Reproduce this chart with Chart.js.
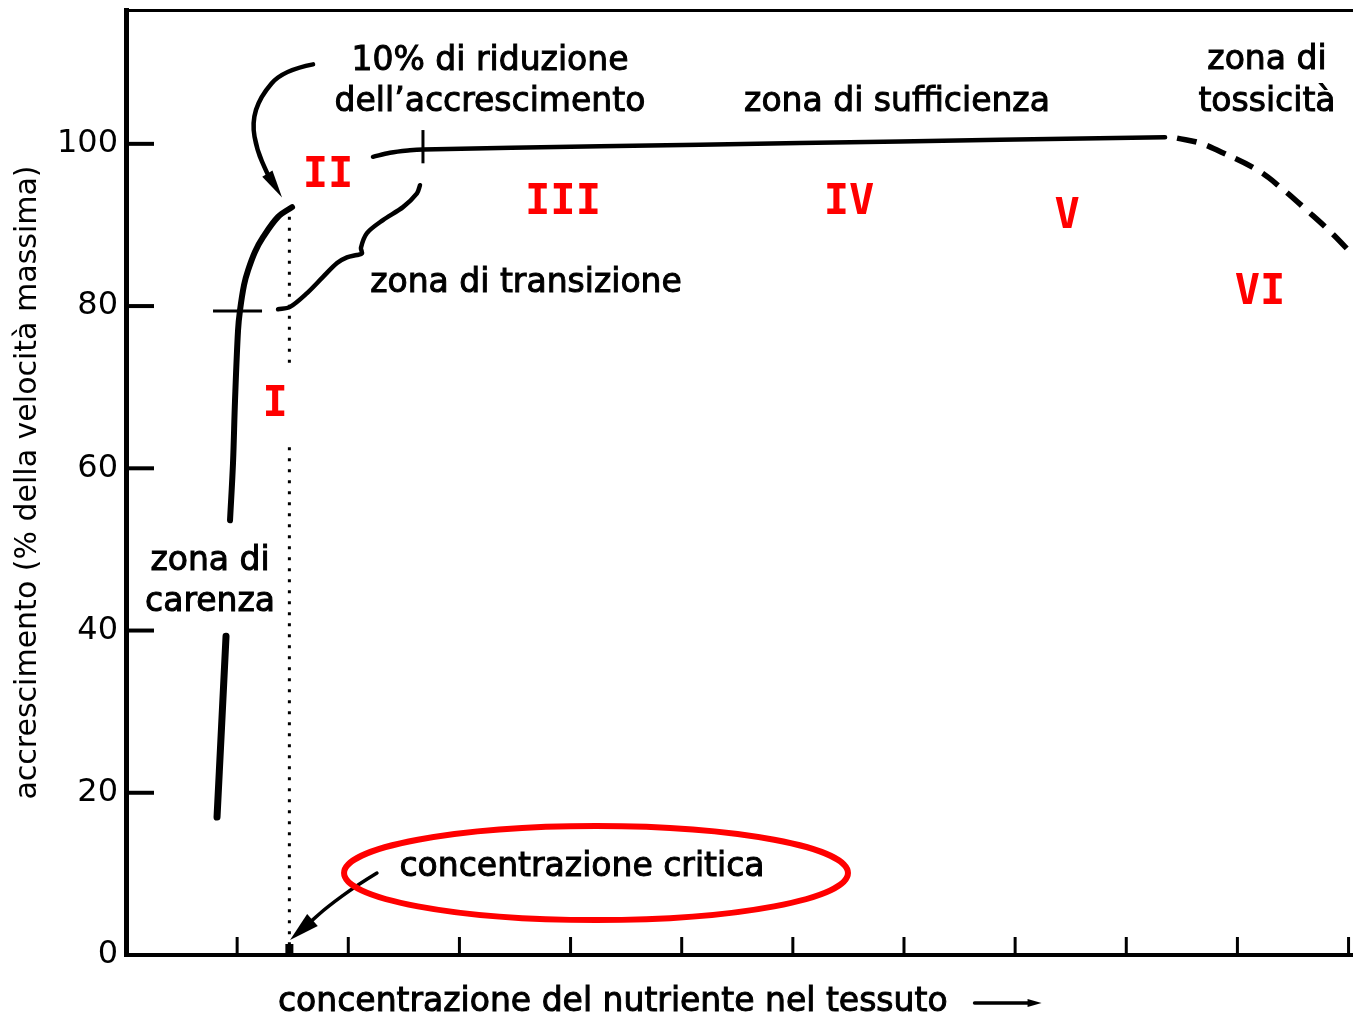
<!DOCTYPE html>
<html>
<head>
<meta charset="utf-8">
<script src="https://cdn.jsdelivr.net/npm/chart.js@4.4.1/dist/chart.umd.min.js"></script>
<style>
  html, body { margin: 0; padding: 0; background: #fff; }
  canvas { display: block; }
</style>
</head>
<body>
<canvas id="myChart" width="1353" height="1018"></canvas>
<script>
// valori: x = concentrazione (unità di tacca), y = % accrescimento
const xTicks = [1, 2, 3, 4, 5, 6, 7, 8, 9, 10, 11];
const yTicks = [0, 20, 40, 60, 80, 100];
const critica = 1.47;

const carenzaX = [0.819, 0.860, 0.900];
const carenzaY = [17.0, 28.2, 39.3];

const curvaX = [0.936, 0.963, 0.981, 1.008, 1.026, 1.062, 1.098, 1.161, 1.233, 1.368, 1.494];
const curvaY = [53.6, 60.7, 68.4, 77.0, 79.5, 82.6, 84.4, 86.7, 88.5, 91.0, 92.2];

const sufficienzaX = [2.222, 2.375, 2.555, 2.672, 4.265, 6.064, 7.864, 9.349];
const sufficienzaY = [98.4, 98.9, 99.2, 99.3, 99.7, 100.1, 100.5, 100.8];

const tossicitaX = [9.457, 9.663, 9.852, 10.176, 10.392, 10.626, 10.842, 11.04];
const tossicitaY = [100.7, 100.1, 99.0, 96.8, 94.6, 91.8, 89.1, 86.3];

// parentesi "zona di transizione"
const graffaX = [1.368, 1.476, 1.629, 1.773, 1.899, 1.988, 2.078, 2.123, 2.114, 2.168, 2.312, 2.492, 2.618, 2.645];
const graffaY = [79.6, 79.9, 81.6, 83.6, 85.3, 86.0, 86.3, 86.5, 87.2, 89.0, 90.6, 92.2, 93.9, 94.9];

// linea punteggiata della concentrazione critica (interrotta dal "I")
const puntiniY = [1.2, 63.5, null, 73.0, 92.1];

// tacche a croce sulla curva
const tacca80X = [0.783, 1.224];
const tacca80Y = [79.4, 79.4];
const tacca100X = [2.672, 2.672];
const tacca100Y = [97.6, 101.7];

const xMax = 11.04;
const yMax = 116.5;

function pts(xs, ys) {
  return xs.map((x, i) => ({ x: x, y: ys[i] }));
}

function line(data, width, extra) {
  return Object.assign({
    data: data,
    showLine: true,
    pointRadius: 0,
    borderColor: '#000',
    borderWidth: width,
    tension: 0.35,
    fill: false,
    borderCapStyle: 'round'
  }, extra || {});
}

// testi e frecce, in unità del grafico
const testi = [
  { t: '10% di riduzione', x: 3.275, y: 109.1 },
  { t: 'dell\u2019accrescimento', x: 3.275, y: 104.0 },
  { t: 'zona di sufficienza', x: 6.937, y: 104.0 },
  { t: 'zona di', x: 10.266, y: 109.2 },
  { t: 'tossicità', x: 10.266, y: 104.0 },
  { t: 'zona di transizione', x: 3.599, y: 81.7 },
  { t: 'zona di', x: 0.756, y: 47.5 },
  { t: 'carenza', x: 0.756, y: 42.4 },
  { t: 'concentrazione critica', x: 4.103, y: 9.7 }
];
const romani = [
  { t: 'I', x: 1.341, y: 67.8 },
  { t: 'II', x: 1.818, y: 96.0 },
  { t: 'III', x: 3.932, y: 92.7 },
  { t: 'IV', x: 6.505, y: 92.7 },
  { t: 'V', x: 8.467, y: 91.0 },
  { t: 'VI', x: 10.203, y: 81.6 }
];
const freccia1 = [[1.683, 109.8], [1.413, 109.1], [1.206, 105.8], [1.134, 102.6], [1.179, 99.2], [1.269, 96.4], [1.404, 93.4]];
const freccia2 = [[2.258, 10.1], [2.078, 8.6], [1.809, 5.9], [1.476, 1.85]];

function smooth(ctx, p) {
  ctx.beginPath();
  ctx.moveTo(p[0][0], p[0][1]);
  for (let i = 1; i < p.length - 1; i++) {
    const mx = (p[i][0] + p[i + 1][0]) / 2;
    const my = (p[i][1] + p[i + 1][1]) / 2;
    ctx.quadraticCurveTo(p[i][0], p[i][1], mx, my);
  }
  ctx.lineTo(p[p.length - 1][0], p[p.length - 1][1]);
  ctx.stroke();
}

// freccia curva: linea fino alla base della punta, poi punta piena
function arrow(ctx, p, len, half) {
  const tip = p[p.length - 1], from = p[p.length - 2];
  const a = Math.atan2(tip[1] - from[1], tip[0] - from[0]);
  const base = [tip[0] - (len - 2) * Math.cos(a), tip[1] - (len - 2) * Math.sin(a)];
  smooth(ctx, p.slice(0, -1).concat([base]));
  ctx.beginPath();
  ctx.moveTo(tip[0], tip[1]);
  ctx.lineTo(tip[0] - len * Math.cos(a) + half * Math.sin(a), tip[1] - len * Math.sin(a) - half * Math.cos(a));
  ctx.lineTo(tip[0] - len * Math.cos(a) - half * Math.sin(a), tip[1] - len * Math.sin(a) + half * Math.cos(a));
  ctx.closePath();
  ctx.fill();
}

const extras = {
  id: 'extras',
  afterDatasetsDraw(chart) {
    const ctx = chart.ctx;
    const sx = chart.scales.x, sy = chart.scales.y;
    const area = chart.chartArea;
    const X = v => sx.getPixelForValue(v);
    const Y = v => sy.getPixelForValue(v);
    ctx.save();
    ctx.strokeStyle = '#000';
    ctx.fillStyle = '#000';

    // tacche verso l'interno
    ctx.lineWidth = 4;
    yTicks.forEach(v => {
      if (v === 0) return;
      ctx.beginPath();
      ctx.moveTo(area.left, Y(v));
      ctx.lineTo(area.left + 28, Y(v));
      ctx.stroke();
    });
    ctx.lineWidth = 3;
    xTicks.forEach(v => {
      ctx.beginPath();
      ctx.moveTo(X(v), area.bottom);
      ctx.lineTo(X(v), area.bottom - 18);
      ctx.stroke();
    });
    ctx.fillRect(X(critica) - 4, area.bottom - 11, 8, 11);

    // frecce
    ctx.lineCap = 'round';
    ctx.lineWidth = 4.5;
    arrow(ctx, freccia1.map(p => [X(p[0]), Y(p[1])]), 28, 6);
    ctx.lineWidth = 3.5;
    arrow(ctx, freccia2.map(p => [X(p[0]), Y(p[1])]), 30, 8);

    // testi neri
    ctx.font = '33px "DejaVu Sans"';
    ctx.textAlign = 'center';
    ctx.textBaseline = 'alphabetic';
    ctx.lineWidth = 1;
    testi.forEach(o => {
      ctx.fillText(o.t, X(o.x), Y(o.y));
      ctx.strokeText(o.t, X(o.x), Y(o.y));
    });

    // titolo asse x con freccia
    ctx.textAlign = 'left';
    const tx = X(1.367), ty = area.bottom + 56;
    const tit = 'concentrazione del nutriente nel tessuto';
    ctx.fillText(tit, tx, ty);
    ctx.strokeText(tit, tx, ty);
    const end = tx + ctx.measureText(tit).width;
    ctx.lineWidth = 3.5;
    arrow(ctx, [[end + 27, ty - 8], [end + 60, ty - 8], [end + 94, ty - 8]], 14, 4);

    // ellisse rossa
    ctx.strokeStyle = '#ff0000';
    ctx.lineWidth = 6;
    ctx.beginPath();
    ctx.ellipse(X(4.229), Y(10.1), X(4.229 + 2.267) - X(4.229), Y(10.1) - Y(10.1 + 5.8), 0, 0, Math.PI * 2);
    ctx.stroke();

    // numeri romani
    ctx.fillStyle = '#ff0000';
    ctx.font = 'bold 42px "DejaVu Sans Mono"';
    ctx.textAlign = 'center';
    ctx.textBaseline = 'middle';
    romani.forEach(o => ctx.fillText(o.t, X(o.x), Y(o.y)));
    ctx.restore();
  }
};

function noPad(s) {
  s.paddingTop = 0;
  s.paddingBottom = 0;
  s.paddingLeft = 0;
  s.paddingRight = 0;
}

new Chart(document.getElementById('myChart'), {
  type: 'scatter',
  data: {
    datasets: [
      line(pts(carenzaX, carenzaY), 7),
      line(pts(curvaX, curvaY), 6),
      line(pts(sufficienzaX, sufficienzaY), 4.5),
      line(pts(tossicitaX, tossicitaY), 5.5, { borderDash: [20, 11], borderCapStyle: 'butt', tension: 0.4 }),
      line(pts(graffaX, graffaY), 4.5, { tension: 0.3 }),
      line(puntiniY.map(y => ({ x: critica, y: y })), 3, { borderDash: [3, 8], borderCapStyle: 'butt', tension: 0 }),
      line(pts(tacca80X, tacca80Y), 3, { tension: 0, borderCapStyle: 'butt' }),
      line(pts(tacca100X, tacca100Y), 3, { tension: 0, borderCapStyle: 'butt' })
    ]
  },
  options: {
    responsive: false,
    devicePixelRatio: 1,
    animation: false,
    layout: { padding: 0 },
    plugins: { legend: { display: false }, tooltip: { enabled: false } },
    scales: {
      x: {
        type: 'linear', position: 'bottom', min: 0, max: xMax,
        ticks: { display: false },
        grid: { display: false, drawTicks: false },
        border: { display: true, color: '#000', width: 4 },
        afterFit: s => { s.height = 63; noPad(s); }
      },
      x2: {
        type: 'linear', position: 'top', min: 0, max: xMax,
        ticks: { display: false },
        grid: { display: false, drawTicks: false },
        border: { display: true, color: '#000', width: 3 },
        afterFit: s => { s.height = 10; noPad(s); }
      },
      y: {
        type: 'linear', min: 0, max: yMax,
        afterBuildTicks: s => { s.ticks = yTicks.map(v => ({ value: v })); },
        ticks: { color: '#000', font: { family: 'DejaVu Sans', size: 32 }, padding: 8 },
        grid: { display: false, drawTicks: false },
        border: { display: true, color: '#000', width: 5 },
        title: {
          display: true,
          text: 'accrescimento (% della velocità massima)',
          color: '#000',
          font: { family: 'DejaVu Sans', size: 30 },
          padding: { top: 10, bottom: 0 }
        },
        afterFit: s => { s.width = 126; noPad(s); }
      }
    }
  },
  plugins: [extras]
});
</script>
</body>
</html>
